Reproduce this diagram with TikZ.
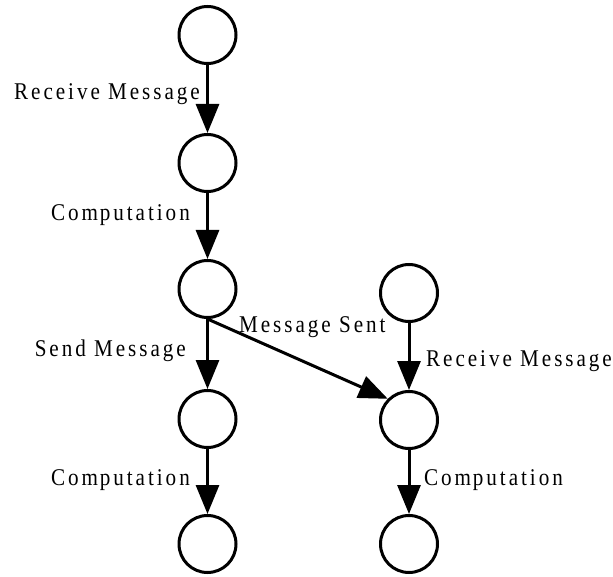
\documentclass[tikz,border=0pt]{standalone}
\usepackage{graphicx}
\usepackage{fontspec}
\setmainfont[LetterSpace=14]{Liberation Serif}
\usetikzlibrary{arrows.meta}
\tikzset{
  state/.style={circle,draw,line width=3pt,minimum size=57pt,inner sep=0pt},
  flow/.style={line width=3pt,-{Triangle[length=29pt,width=23pt]}},
  lbl/.style={font=\fontsize{24}{28}\selectfont,inner sep=0pt},
}
\newcommand{\Lb}[1]{\scalebox{0.88}[1]{#1}}
\newcommand{\Comp}{\Lb{Com\kern2pt putation}}
\begin{document}
\begin{tikzpicture}[x=1pt,y=-1pt]
\useasboundingbox (0,0) rectangle (613,577);
\node[state] (a1) at (207.5,35) {};
\node[state] (a2) at (207.5,163) {};
\node[state] (a3) at (207.5,289) {};
\node[state] (a4) at (207.5,419) {};
\node[state] (a5) at (207.5,544) {};
\node[state] (b1) at (409,293) {};
\node[state] (b2) at (409,420) {};
\node[state] (b3) at (409,544) {};
\draw[flow] (a1) -- (a2);
\draw[flow] (a2) -- (a3);
\draw[flow] (a3) -- (a4);
\draw[flow] (a4) -- (a5);
\draw[flow] (a3.south) -- (b2.north west);
\draw[flow] (b1) -- (b2);
\draw[flow] (b2) -- (b3);
\node[lbl,anchor=base east] (l1) at (200,100) {\Lb{Receive Message}};
\node[lbl,anchor=base east] (l2) at (190,221) {\Comp};
\node[lbl,anchor=base east] (l3) at (186,356) {\Lb{Send Message}};
\node[lbl,anchor=base east] (l4) at (190,485) {\Comp};
\node[lbl,anchor=base west] (l5) at (239,332) {\Lb{Message Sent}};
\node[lbl,anchor=base west] (l6) at (426,366) {\Lb{Receive Message}};
\node[lbl,anchor=base west] (l7) at (424,485) {\Comp};
\end{tikzpicture}
\end{document}
